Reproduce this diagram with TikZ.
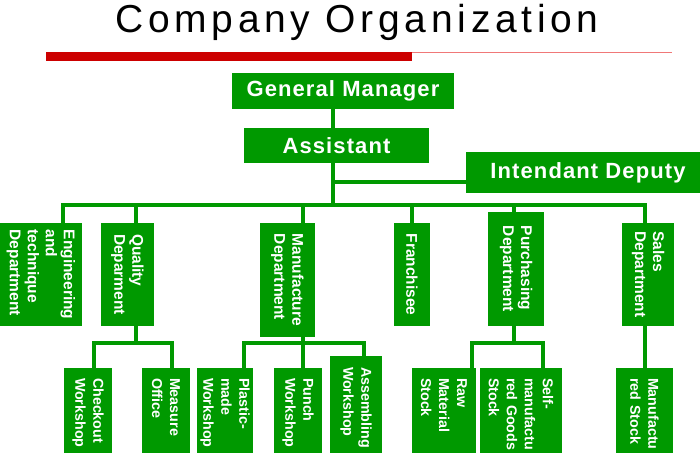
\documentclass[tikz,border=0pt]{standalone}
\usepackage{fontspec}
\setmainfont{Liberation Sans}
\definecolor{grn}{RGB}{0,153,0}
\definecolor{redbar}{RGB}{204,0,0}
\definecolor{redthin}{RGB}{240,120,120}
\begin{document}
\begin{tikzpicture}[x=1pt,y=-1pt,
  hbox/.style={fill=grn,text=white,inner sep=0pt,font=\fontsize{22}{26}\selectfont\bfseries\addfontfeatures{LetterSpace=5}},
  vbox/.style={fill=grn,text=white,rotate=-90,inner xsep=0pt,inner ysep=0pt,align=left,font=\fontsize{15.5}{18}\selectfont\bfseries},
  lbox/.style={vbox,inner xsep=10pt,font=\fontsize{14.3}{18}\selectfont\bfseries},
  conn/.style={draw=grn,line width=3.5pt}]
\useasboundingbox (0,0) rectangle (700,452);
% title
\node[font=\fontsize{39}{45}\selectfont\addfontfeatures{LetterSpace=12},anchor=base,inner sep=0pt] (title) at (357,33) {Company Organization};
\fill[redbar] (46,52) rectangle (412,61);
\draw[redthin,line width=1.2pt] (412,52.6) -- (672,52.6);
% top boxes
\node[hbox,minimum width=222,minimum height=36] (gm) at (343,91) {General Manager};
\node[hbox,minimum width=185,minimum height=35] (as) at (336.5,145.5) {Assistant};
\node[hbox,minimum width=244,minimum height=41] (idp) at (588,172.5) {Intendant Deputy};
% departments
\node[vbox,minimum width=103,minimum height=82] (eng) at (41,274.5) {Engineering\\and\\technique\\Department};
\node[vbox,minimum width=103,minimum height=53] (qd) at (127.5,274.5) {Quality\\Deparment};
\node[vbox,minimum width=114,minimum height=55] (md) at (287.5,280) {Manufacture\\Department};
\node[vbox,minimum width=103,minimum height=36] (fr) at (412,274.5) {Franchisee};
\node[vbox,minimum width=114,minimum height=56] (pd) at (516,269) {Purchasing\\Department};
\node[vbox,minimum width=103,minimum height=52] (sd) at (648,274.5) {Sales\\Department};
% bottom
\node[lbox,minimum width=100,minimum height=48,text width=80] (chk) at (88,418) {Checkout\\Workshop};
\node[lbox,minimum width=100,minimum height=48,text width=80] (mo) at (166,418) {Measure\\Office};
\node[lbox,minimum width=100,minimum height=56,text width=80] (pl) at (225,418) {Plastic-\\made\\Workshop};
\node[lbox,minimum width=100,minimum height=48,text width=80] (pu) at (298,418) {Punch\\Workshop};
\node[lbox,minimum width=112,minimum height=52,text width=90,inner xsep=11pt] (asb) at (356,412) {Assembling\\Workshop};
\node[lbox,minimum width=100,minimum height=64,text width=80] (raw) at (444,418) {Raw\\Material\\Stock};
\node[lbox,minimum width=100,minimum height=82,text width=80] (self) at (521,418) {Self-\\manufactu\\red Goods\\Stock};
\node[lbox,minimum width=100,minimum height=57,text width=80] (ms) at (644.5,418) {Manufactu\\red Stock};
% connectors
\coordinate (tk) at (333,205);
\coordinate (ij) at (333,182);
\draw[conn] (gm.south -| tk) -- (as.north -| tk);
\draw[conn] (as.south -| tk) -- (tk);
\draw[conn] (ij) -- (ij -| idp.west);
\coordinate (b1) at (63,205);
\coordinate (b2) at (136,205);
\coordinate (b3) at (303,205);
\coordinate (b4) at (412,205);
\coordinate (b5) at (514,205);
\coordinate (b6) at (645,205);
\draw[conn] (b1 |- eng.west) -- (b1) -- (b6) -- (b6 |- sd.west);
\draw[conn] (b2) -- (b2 |- qd.west);
\draw[conn] (b3) -- (b3 |- md.west);
\draw[conn] (b4) -- (b4 |- fr.west);
\draw[conn] (b5) -- (b5 |- pd.west);
% quality sub
\coordinate (q0) at (136,343);
\coordinate (qa) at (94,343);
\coordinate (qb) at (172,343);
\draw[conn] (q0 |- qd.east) -- (q0);
\draw[conn] (qa |- chk.west) -- (qa) -- (qb) -- (qb |- mo.west);
% manufacture sub
\coordinate (m0) at (303,343);
\coordinate (ma) at (244,343);
\coordinate (mb) at (364,343);
\draw[conn] (m0 |- md.east) -- (m0 |- pu.west);
\draw[conn] (ma |- pl.west) -- (ma) -- (mb) -- (mb |- asb.west);
% purchasing sub
\coordinate (p0) at (514,343);
\coordinate (pa) at (472,343);
\coordinate (pb) at (543,343);
\draw[conn] (p0 |- pd.east) -- (p0);
\draw[conn] (pa |- raw.west) -- (pa) -- (pb) -- (pb |- self.west);
% sales sub
\coordinate (s0) at (645,343);
\draw[conn] (s0 |- sd.east) -- (s0 |- ms.west);
\end{tikzpicture}
\end{document}
